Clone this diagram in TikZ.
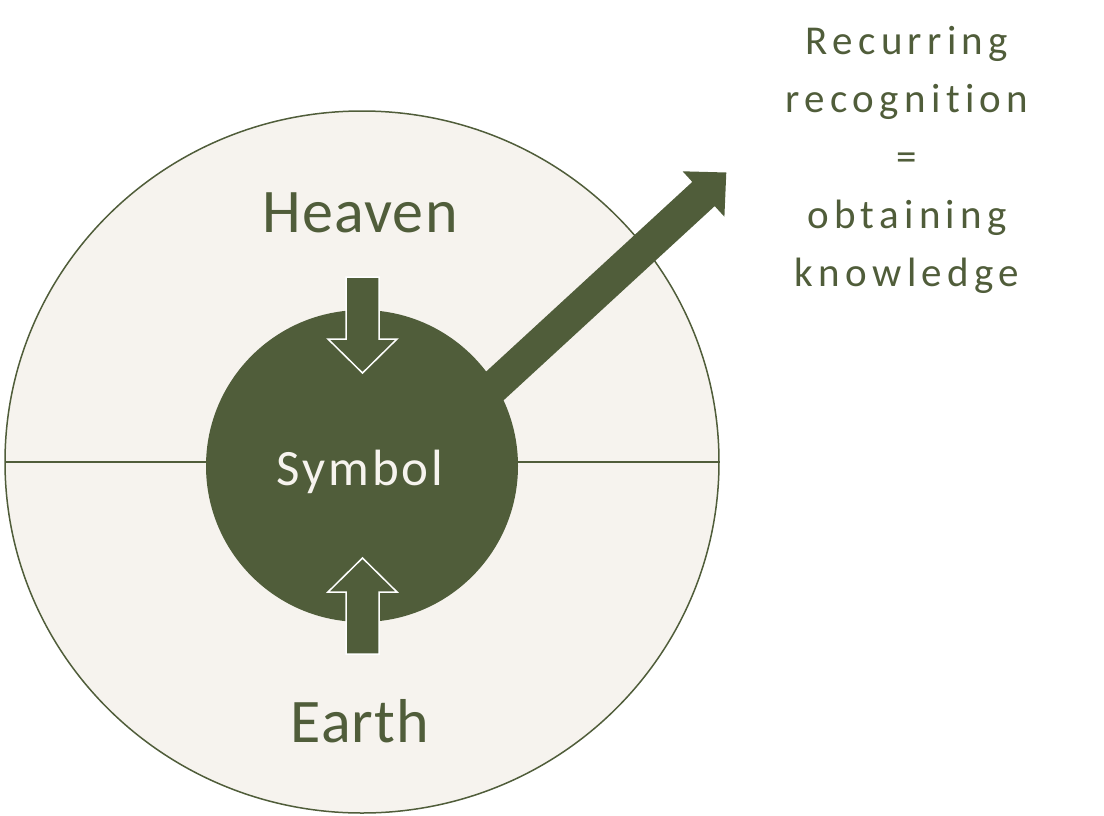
\documentclass[tikz,border=0pt]{standalone}
\usepackage{fontspec}
\setmainfont{Carlito}
\newfontfamily\realmfont[LetterSpace=2]{Carlito}
\newfontfamily\ringfont[LetterSpace=6]{Carlito}
\newfontfamily\notefont[LetterSpace=13, Ligatures=NoCommon]{Carlito}
\usetikzlibrary{positioning}

\definecolor{moss}{RGB}{80,93,58}
\definecolor{parchment}{RGB}{246,243,238}

\tikzset{
    ring/.style={fill=parchment, draw=moss, line width=0.75pt},
    divider/.style={draw=moss, line width=0.75pt},
    core/.style={circle, fill=moss, minimum size=156pt, inner sep=0pt},
    hollowtip/.style={fill=moss, draw=white, line width=0.75pt, line join=miter},
    beam/.style={fill=moss},
    realm/.style={text=moss, inner sep=0pt, anchor=base, font={\realmfont\fontsize{31}{36}\selectfont}},
    notetext/.style={text=moss, inner sep=0pt, anchor=north, align=center, font={\notefont\fontsize{20.5}{29}\selectfont}}
}

\begin{document}
\begin{tikzpicture}[x=0.5pt, y=-0.5pt]
    \useasboundingbox (0,0) rectangle (1104,815);
    % outer disc, cut in two
    \draw[ring] (362,462) ellipse [x radius=357, y radius=351];
    \draw[divider] (5,462) -- (719,462);
    % the symbol and its way out
    \node[core] (symbol) at (362,466) {};
    \fill[beam] (428.8,424.3) -- (692.3,181.9) -- (682.6,171.3) -- (726.3,172.5)
        -- (724.4,216.7) -- (714.7,206.1) -- (451.2,448.5) -- cycle;
    % from above and from below
    \draw[hollowtip] (346,277) -- (379,277) -- (379,339) -- (397,339) -- (362.5,373)
        -- (328,339) -- (346,339) -- cycle;
    \draw[hollowtip] (346,654) -- (379,654) -- (379,592) -- (397,592) -- (362.5,558)
        -- (328,592) -- (346,592) -- cycle;
    % labels
    \node[realm] (heaven) at (360,232) {Heaven};
    \node[realm] (earth) at (360,742) {Earth};
    \node[realm, text=parchment, font={\ringfont\fontsize{25.5}{30}\selectfont}] (symbollabel) at (360,485) {Symbol};
    \node[notetext] (note) at (907,26) {Recurring\\recognition\\=\\obtaining\\knowledge};
\end{tikzpicture}
\end{document}
